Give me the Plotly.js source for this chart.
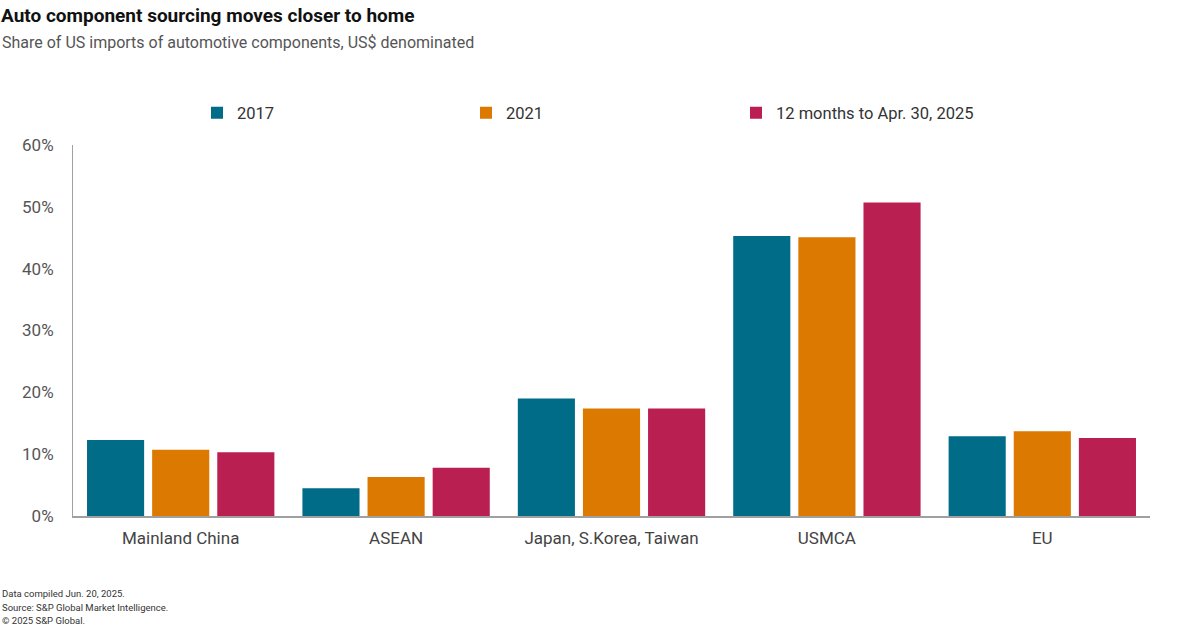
<!DOCTYPE html>
<html>
<head>
<meta charset="utf-8">
<script src="https://cdn.plot.ly/plotly-3.0.1.min.js"></script>
<style>html,body{margin:0;padding:0;background:#fff;}#chart{width:1200px;height:627px;}</style>
</head>
<body>
<div id="chart"></div>
<script>
const categories = ["Mainland China", "ASEAN", "Japan, S.Korea, Taiwan", "USMCA", "EU"];
const seriesNames = ["2017", "2021", "12 months to Apr. 30, 2025"];
const values2017 = [12.3, 4.5, 19.0, 45.3, 12.9];
const values2021 = [10.7, 6.3, 17.4, 45.1, 13.7];
const values2025 = [10.3, 7.8, 17.4, 50.7, 12.6];
const yTickVals = [0, 10, 20, 30, 40, 50, 60];
const yTickText = ["0%", "10%", "20%", "30%", "40%", "50%", "60%"];

const colors = ["#006C87", "#DB7900", "#B91F51"];
const allValues = [values2017, values2021, values2025];
const legendIds = ["legend", "legend2", "legend3"];

const traces = allValues.map((v, i) => ({
  type: "bar",
  name: seriesNames[i],
  x: categories,
  y: v,
  marker: {color: colors[i], line: {width: 0}},
  legend: legendIds[i],
  hoverinfo: "skip"
}));

const font = "Roboto, 'Liberation Sans', sans-serif";
const legendBase = {
  orientation: "h", xref: "paper", yref: "container", yanchor: "middle",
  y: 1 - 113/627, bgcolor: "rgba(0,0,0,0)",
  font: {family: font, size: 16.5, color: "#333"},
  itemwidth: 30, tracegroupgap: 0
};
const W = 1200, L = 73, R = 50;
const px = (p) => (p - L) / (W - L - R);

const layout = {
  width: 1200, height: 627,
  paper_bgcolor: "#fff", plot_bgcolor: "#fff",
  margin: {l: L, r: R, t: 145, b: 111},
  font: {family: font, color: "#444"},
  barmode: "group", bargap: 0.093, bargroupgap: 0.123,
  showlegend: true,
  legend: Object.assign({}, legendBase, {x: px(197)}),
  legend2: Object.assign({}, legendBase, {x: px(466)}),
  legend3: Object.assign({}, legendBase, {x: px(736)}),
  xaxis: {
    showline: true, linecolor: "#a0a0a0", linewidth: 1.5,
    showgrid: false, ticks: "", zeroline: false,
    tickfont: {family: font, size: 17, color: "#444"}, ticklabelstandoff: 6
  },
  yaxis: {
    range: [0, 60], tickvals: yTickVals, ticktext: yTickText,
    showline: true, linecolor: "#a0a0a0", linewidth: 1,
    showgrid: false, zeroline: false, ticks: "",
    tickfont: {family: font, size: 17, color: "#555"}, ticklabelstandoff: 15
  },
  title: {
    text: "<b>Auto component sourcing moves closer to home</b>",
    x: 1/1200, xref: "container", xanchor: "left", yref: "container", y: 1 - 15/627, yanchor: "middle",
    font: {family: font, size: 19, color: "#111"}
  },
  annotations: [
    {text: "Share of US imports of automotive components, US$ denominated", xref: "paper", yref: "paper",
     x: px(0), y: 1 + (145-43)/371, xanchor: "left", yanchor: "middle", showarrow: false,
     font: {family: font, size: 16, color: "#555"}},
    {text: "Data compiled Jun. 20, 2025.", xref: "paper", yref: "paper",
     x: px(0), y: -(593-516)/371, xanchor: "left", yanchor: "middle", showarrow: false,
     font: {family: font, size: 9.5, color: "#333"}},
    {text: "Source: S&P Global Market Intelligence.", xref: "paper", yref: "paper",
     x: px(0), y: -(607-516)/371, xanchor: "left", yanchor: "middle", showarrow: false,
     font: {family: font, size: 9.5, color: "#333"}},
    {text: "© 2025 S&P Global.", xref: "paper", yref: "paper",
     x: px(0), y: -(620-516)/371, xanchor: "left", yanchor: "middle", showarrow: false,
     font: {family: font, size: 9.5, color: "#333"}}
  ]
};

Plotly.newPlot("chart", traces, layout, {displayModeBar: false, staticPlot: true});
</script>
</body>
</html>
